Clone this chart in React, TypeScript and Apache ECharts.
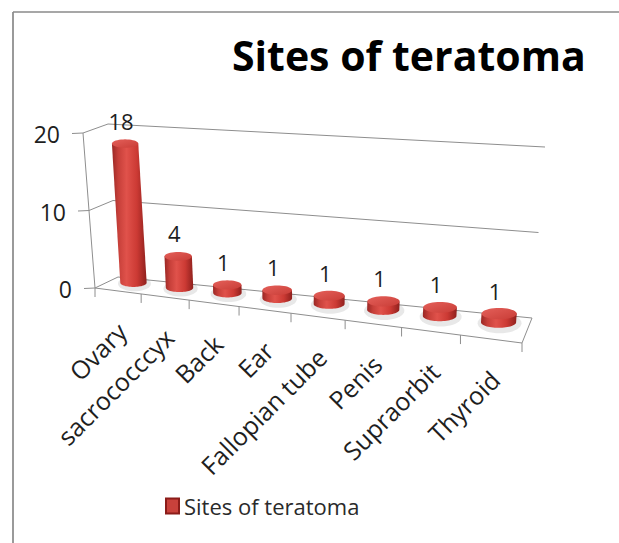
import React, { useEffect, useRef } from "react";
import * as echarts from "echarts";

// ---------- data ----------
const categories = ["Ovary", "sacrococccyx", "Back", "Ear", "Fallopian tube", "Penis", "Supraorbit", "Thyroid"];
const siteCounts = [18, 4, 1, 1, 1, 1, 1, 1];
const seriesName = "Sites of teratoma";
const chartTitle = "Sites of teratoma";
const yTicks = [0, 10, 20];
const yMin = 0;
const yMax = 20;
const yInterval = 10;

// ---------- layout of the perspective box (screen corners) ----------
const BOX = {
  F0L: [95, 288], F0R: [522, 343], B0L: [118, 277], B0R: [532, 318],
  F1L: [83, 133], F1R: [536, 165], B1L: [108, 124], B1R: [545, 147],
};
const PERSP = 0.1515; // foreshortening along the category axis
const BAR_DEPTH = 0.7;
const FONT = "'Open Sans', sans-serif";

type Pt = [number, number];
const lerp = (a: number[], b: number[], s: number): Pt => [a[0] + (b[0] - a[0]) * s, a[1] + (b[1] - a[1]) * s];
const warp = (t: number) => ((1 - PERSP) * t) / (1 - PERSP * t);
function proj(tn: number, vn: number, d: number): Pt {
  const u = warp(tn);
  const f0 = lerp(BOX.F0L, BOX.F0R, u);
  const b0 = lerp(BOX.B0L, BOX.B0R, u);
  const f1 = lerp(BOX.F1L, BOX.F1R, u);
  const b1 = lerp(BOX.B1L, BOX.B1R, u);
  return lerp(lerp(f0, b0, d), lerp(f1, b1, d), vn);
}
function arcPts(cx: number, cy: number, rx: number, ry: number, a0: number, a1: number, n: number): Pt[] {
  const pts: Pt[] = [];
  for (let k = 0; k <= n; k++) {
    const a = a0 + ((a1 - a0) * k) / n;
    pts.push([cx + rx * Math.cos(a), cy + ry * Math.sin(a)]);
  }
  return pts;
}

const GRID = { left: 95, top: 133, width: 427, height: 155 };
const LINE = "#8e8e8e";

function normV(params: any, p: number[]) {
  const cs = params.coordSys;
  return (cs.y + cs.height - p[1]) / cs.height;
}
function normT(params: any, p: number[]) {
  const cs = params.coordSys;
  return (p[0] - cs.x) / cs.width;
}

function renderFrame(params: any, api: any) {
  const v = api.value(1);
  const p = api.coord([0, v]);
  const vn = normV(params, p);
  const children: any[] = [];
  if (v === yMin) {
    children.push({
      type: "polygon",
      shape: { points: [proj(0, 0, 0), proj(1, 0, 0), proj(1, 0, 1), proj(0, 0, 1)] },
      style: { fill: "#ffffff", stroke: LINE, lineWidth: 1 },
    });
    const a0 = proj(0, 0, 0);
    const a1 = proj(0, 1, 0);
    children.push({ type: "line", shape: { x1: a0[0], y1: a0[1], x2: a1[0], y2: a1[1] }, style: { stroke: LINE, lineWidth: 1 } });
  } else {
    const b0 = proj(0, vn, 1);
    const b1 = proj(1, vn, 1);
    const f0 = proj(0, vn, 0);
    children.push({ type: "line", shape: { x1: b0[0], y1: b0[1], x2: b1[0], y2: b1[1] }, style: { stroke: LINE, lineWidth: 1 } });
    children.push({ type: "line", shape: { x1: f0[0], y1: f0[1], x2: b0[0], y2: b0[1] }, style: { stroke: LINE, lineWidth: 1 } });
  }
  const f = proj(0, vn, 0);
  children.push({ type: "line", shape: { x1: f[0] - 11, y1: f[1] + 0.5, x2: f[0], y2: f[1] }, style: { stroke: LINE, lineWidth: 1 } });
  children.push({
    type: "text",
    x: f[0] - 23,
    y: f[1] + 1,
    style: { text: String(v), align: "right", verticalAlign: "middle", fontFamily: FONT, fontSize: 23, fill: "#1e1e1e" },
  });
  return { type: "group", children };
}

function renderBar(params: any, api: any) {
  const idx = params.dataIndex;
  const cat = api.value(0);
  const val = api.value(1);
  const pBase = api.coord([cat, 0]);
  const pTop = api.coord([cat, val]);
  const band = api.size([1, 0])[0];
  const cs = params.coordSys;
  const tn = normT(params, pBase);
  const half = band / 2 / cs.width;
  const vnTop = normV(params, pTop);
  const cb = proj(tn, 0, BAR_DEPTH);
  const ct = proj(tn, vnTop, BAR_DEPTH);
  const wl = proj(tn - half, 0, BAR_DEPTH);
  const wr = proj(tn + half, 0, BAR_DEPTH);
  const bandPx = Math.hypot(wr[0] - wl[0], wr[1] - wl[1]);
  const rx = bandPx * 0.29;
  const ry = rx * 0.32;
  const children: any[] = [];

  // soft shadow on the floor
  children.push({
    type: "polygon",
    shape: { points: arcPts(cb[0] + 1, cb[1] + 1, rx * 1.25, ry * 1.8, 0, Math.PI * 2, 40) },
    style: { fill: "rgba(0,0,0,0.09)" },
  });
  // body
  const body: Pt[] = [[ct[0] - rx, ct[1]], [cb[0] - rx, cb[1]]];
  arcPts(cb[0], cb[1], rx, ry, Math.PI, 0, 30).forEach((q) => body.push(q));
  body.push([ct[0] + rx, ct[1]]);
  children.push({
    type: "polygon",
    shape: { points: body },
    style: {
      fill: new echarts.graphic.LinearGradient(0, 0, 1, 0, [
        { offset: 0, color: "#9a2724" },
        { offset: 0.18, color: "#c63f39" },
        { offset: 0.42, color: "#e0524b" },
        { offset: 0.72, color: "#cc3a34" },
        { offset: 1, color: "#8f201d" },
      ]),
    },
  });
  // top cap
  children.push({
    type: "polygon",
    shape: { points: arcPts(ct[0], ct[1], rx, ry, 0, Math.PI * 2, 40) },
    style: {
      fill: new echarts.graphic.LinearGradient(0, 0, 1, 1, [
        { offset: 0, color: "#e4605a" },
        { offset: 1, color: "#c93d37" },
      ]),
    },
  });
  // data label
  children.push({
    type: "text",
    x: ct[0] - 4,
    y: ct[1] - 23,
    style: { text: String(val), align: "center", verticalAlign: "middle", fontFamily: FONT, fontSize: 22, fill: "#1e1e1e" },
  });
  // category ticks on the front edge of the floor
  const tl = proj(tn - half, 0, 0);
  children.push({ type: "line", shape: { x1: tl[0], y1: tl[1], x2: tl[0], y2: tl[1] + 9 }, style: { stroke: LINE, lineWidth: 1 } });
  if (idx === categories.length - 1) {
    const tr = proj(tn + half, 0, 0);
    children.push({ type: "line", shape: { x1: tr[0], y1: tr[1], x2: tr[0], y2: tr[1] + 9 }, style: { stroke: LINE, lineWidth: 1 } });
  }
  // category label
  const fc = proj(tn, 0, 0);
  children.push({
    type: "text",
    x: fc[0] + 4,
    y: fc[1] + 36,
    rotation: Math.PI / 4,
    style: { text: categories[idx], align: "right", verticalAlign: "middle", fontFamily: FONT, fontSize: 25, fill: "#1e1e1e" },
  });
  return { type: "group", children };
}

export default function App() {
  const ref = useRef<HTMLDivElement>(null);
  useEffect(() => {
    if (!ref.current) return;
    const chart = echarts.init(ref.current, null, { renderer: "svg" });
    chart.setOption({
      animation: false,
      backgroundColor: "#ffffff",
      title: {
        text: chartTitle,
        left: 232,
        top: 34,
        padding: 0,
        textStyle: { fontFamily: FONT, fontWeight: "bold", fontSize: 41, color: "#000" },
      },
      legend: {
        data: [seriesName],
        left: 165,
        top: 495,
        padding: 0,
        icon: "rect",
        itemWidth: 13,
        itemHeight: 15,
        textStyle: { fontFamily: FONT, fontSize: 22, color: "#2a2a2a" },
      },
      grid: { ...GRID },
      xAxis: { type: "category", data: categories, show: false },
      yAxis: { type: "value", min: yMin, max: yMax, interval: yInterval, show: false },
      graphic: [
        { type: "line", silent: true, shape: { x1: 13, y1: 12, x2: 13, y2: 543 }, style: { stroke: "#9a9a9a", lineWidth: 2 } },
        { type: "line", silent: true, shape: { x1: 13, y1: 12, x2: 619, y2: 12 }, style: { stroke: "#8a8a8a", lineWidth: 1.5 } },
      ],
      series: [
        {
          name: "frame",
          type: "custom",
          silent: true,
          clip: false,
          renderItem: renderFrame,
          data: yTicks.map((v) => [0, v]),
        },
        {
          name: seriesName,
          type: "custom",
          silent: true,
          clip: false,
          itemStyle: { color: "#c8413b", borderColor: "#8b1c19", borderWidth: 1 },
          renderItem: renderBar,
          data: siteCounts.map((v, i) => [i, v]),
        },
      ],
    });
    return () => chart.dispose();
  }, []);
  return <div ref={ref} style={{ position: "absolute", left: 0, top: 0, width: 619, height: 543, background: "#fff" }} />;
}
